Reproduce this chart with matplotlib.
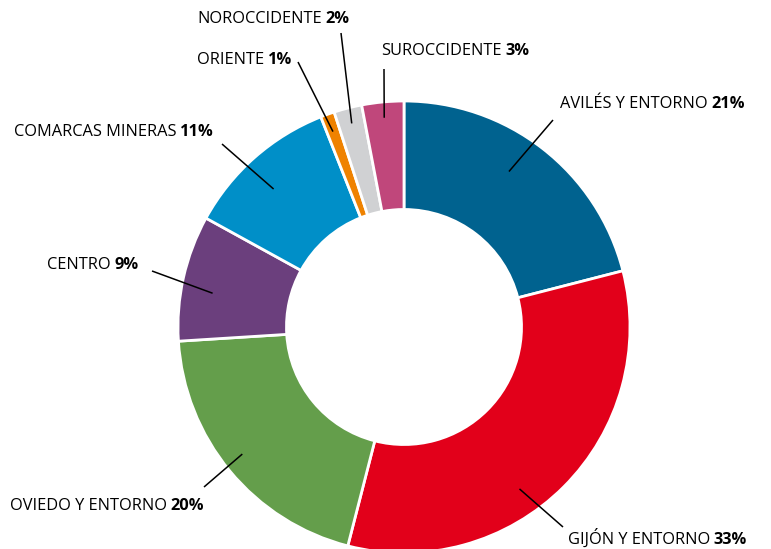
import numpy
import matplotlib
matplotlib.use("Agg")
import matplotlib.pyplot
from matplotlib.offsetbox import AnnotationBbox, HPacker, TextArea

regions = [
    "AVILÉS Y ENTORNO",
    "GIJÓN Y ENTORNO",
    "OVIEDO Y ENTORNO",
    "CENTRO",
    "COMARCAS MINERAS",
    "ORIENTE",
    "NOROCCIDENTE",
    "SUROCCIDENTE",
]
shares = [21, 33, 20, 9, 11, 1, 2, 3]
colors = [
    "#00628f",
    "#e2001a",
    "#649e4b",
    "#6b3f7d",
    "#008fc8",
    "#ef8200",
    "#d0d1d3",
    "#c0477b",
]

# label layout in pixels of the 771x549 canvas: text left/centre, leader start,
# leader end as (fraction along the slice, radius)
CX, CY, R = 404, 327, 226
label_pos = [(560, 104), (568, 538), (10, 506), (47, 265), (14, 132), (197, 60), (197, 19), (381, 51)]
leader_start = [(553, 120), (563, 527), (204, 487), (152, 271), (222, 144), (298, 62), (341, 33), (384, 69)]
leader_end = [(0.45, 0.83), (0.58, 0.88), (0.52, 0.91), (0.42, 0.86), (0.45, 0.84), (0.45, 0.92), (0.5, 0.93), (0.5, 0.93)]


def px(x, y):
    return (x - CX) / R, (CY - y) / R


def main():
    matplotlib.rcParams["font.family"] = ["Open Sans", "DejaVu Sans"]
    fig = matplotlib.pyplot.figure(figsize=(7.71, 5.49), dpi=100)
    ax = fig.add_axes([0, 0, 1, 1])
    wedges, _ = ax.pie(
        shares,
        colors=colors,
        startangle=90,
        counterclock=False,
        radius=1,
        wedgeprops=dict(width=0.48, edgecolor="white", linewidth=2),
    )
    ax.set_xlim(-CX / R, (771 - CX) / R)
    ax.set_ylim(-(549 - CY) / R, CY / R)
    ax.set_aspect("equal")
    ax.axis("off")

    for i, w in enumerate(wedges):
        frac, rad = leader_end[i]
        ang = numpy.deg2rad(w.theta2 - frac * (w.theta2 - w.theta1))
        x0, y0 = px(*leader_start[i])
        ax.plot([x0, rad * numpy.cos(ang)], [y0, rad * numpy.sin(ang)],
                color="black", linewidth=1.1, solid_capstyle="butt")
        box = HPacker(
            children=[
                TextArea(regions[i], textprops=dict(fontsize=11.8, color="black")),
                TextArea(f"{shares[i]}%", textprops=dict(fontsize=11.8, fontweight="bold", color="black")),
            ],
            pad=0,
            sep=2.5,
            align="baseline",
        )
        ab = AnnotationBbox(box, px(*label_pos[i]), xycoords="data",
                            box_alignment=(0, 0.5), frameon=False, pad=0)
        ax.add_artist(ab)

    fig.savefig("out.png", dpi=100)
    matplotlib.pyplot.close(fig)


if __name__ == "__main__":
    main()
